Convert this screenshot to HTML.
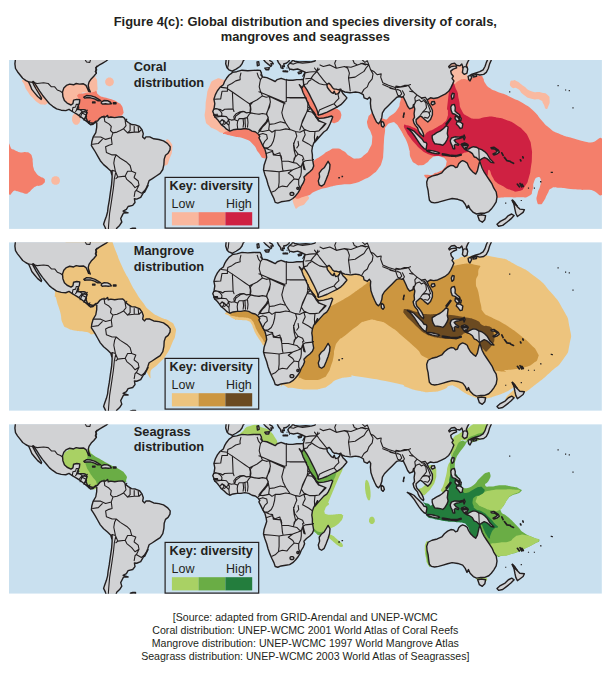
<!DOCTYPE html>
<html lang="en"><head><meta charset="utf-8"><title>Figure 4(c)</title>
<style>
html,body{margin:0;padding:0;background:#fff}
svg{display:block}
text{font-family:"Liberation Sans",Arial,Helvetica,sans-serif;fill:#231f20}
.t{font-weight:bold;font-size:12.9px;text-anchor:middle}
.l{font-weight:bold;font-size:12.8px}
.k{font-weight:bold;font-size:12.7px}
.r{font-size:12.5px}
.s{font-size:10.6px;text-anchor:middle}
.land{fill:#d1d2d4;stroke:#231f20;stroke-width:1.4;stroke-linejoin:round}
.bd{fill:none;stroke:#231f20;stroke-width:1.1;stroke-linejoin:round;stroke-linecap:round}
.is{fill:#231f20;stroke:none}
.st{fill:none;stroke:#231f20;stroke-width:1.7;stroke-linecap:round;stroke-linejoin:round}
</style></head><body>
<svg width="613" height="676" viewBox="0 0 613 676">
<defs>
<clipPath id="cp0"><rect x="0" y="0" width="592.9" height="168.9"/></clipPath>
<clipPath id="cp1"><rect x="0" y="0" width="592.9" height="168.7"/></clipPath>
<clipPath id="cp2"><rect x="0" y="0" width="592.9" height="169.6"/></clipPath>
<g id="base">
<path class="land" d="M6.5 -1.3 L5.9 3.9 L6.5 8.5 L8.5 11.7 L11.1 15.0 L13.7 18.3 L17.0 20.6 L19.6 21.9 L21.5 26.1 L22.8 29.4 L25.4 32.6 L28.7 36.5 L32.2 39.4 L32.6 38.1 L29.8 33.3 L27.1 29.0 L24.8 24.8 L23.5 22.2 L24.0 21.5 L24.8 21.9 L27.7 26.4 L30.5 30.9 L33.5 35.2 L37.5 40.1 L40.5 43.7 L43.7 46.3 L47.6 48.9 L52.2 50.2 L56.8 50.6 L60.0 49.3 L63.3 51.5 L67.9 54.2 L71.8 56.8 L75.0 59.4 L78.3 62.0 L81.5 64.8 L84.1 64.3 L86.1 62.4 L87.8 63.0 L87.7 67.4 L86.8 72.6 L84.1 77.2 L82.8 81.8 L82.4 85.7 L84.1 88.3 L86.1 91.5 L88.7 96.1 L91.3 100.7 L94.6 104.6 L98.5 107.9 L101.8 111.1 L103.1 115.7 L103.1 110.6 L103.1 117.4 L102.6 124.3 L101.4 132.3 L100.3 140.3 L99.1 147.1 L98.6 151.7 L97.4 156.2 L95.7 160.8 L94.6 164.2 L96.3 167.7 L97.4 171.7 L106.6 171.7 L107.7 168.2 L110.6 165.4 L112.8 162.0 L111.7 158.5 L113.4 155.1 L114.5 153.0 L119.1 152.8 L114.1 151.2 L117.4 149.4 L119.1 146.5 L123.7 145.4 L126.0 142.5 L125.4 138.8 L127.7 139.1 L131.7 137.4 L134.0 133.4 L136.8 128.8 L139.1 125.4 L135.6 132.3 L136.9 129.1 L138.8 124.5 L140.1 120.6 L143.4 118.6 L147.3 116.0 L151.2 113.4 L153.8 109.5 L154.9 104.3 L155.2 99.1 L156.5 95.2 L159.1 93.2 L161.0 89.9 L161.2 86.7 L158.4 83.4 L154.5 80.8 L149.9 79.5 L144.7 78.8 L140.8 76.9 L136.9 76.9 L135.6 78.8 L133.6 76.9 L134.3 73.6 L133.0 69.7 L130.4 66.4 L126.4 64.9 L122.5 64.5 L119.3 62.5 L116.0 59.9 L116.8 60.9 L115.5 58.3 L113.5 56.7 L109.6 57.0 L105.7 57.6 L101.8 57.0 L99.2 57.6 L98.6 55.4 L96.5 57.0 L93.3 56.7 L90.7 58.3 L88.5 61.1 L86.8 61.3 L84.2 63.3 L80.9 62.6 L78.3 60.7 L77.0 57.4 L77.6 53.5 L77.0 50.2 L75.0 49.6 L70.4 49.6 L67.8 49.3 L69.1 45.9 L70.4 43.1 L70.8 39.7 L67.8 39.4 L64.6 40.1 L63.9 43.7 L62.0 45.0 L58.1 43.1 L55.4 40.5 L53.9 36.5 L53.5 32.0 L54.8 28.1 L57.4 25.4 L60.7 24.1 L64.6 24.8 L67.2 23.5 L70.4 24.1 L74.4 23.8 L77.0 25.4 L78.3 28.1 L79.6 31.3 L81.3 31.8 L80.0 28.7 L79.2 25.4 L80.0 22.2 L82.2 18.9 L84.8 16.3 L87.4 13.1 L86.8 10.4 L87.4 7.2 L90.0 5.2 L93.3 3.3 L97.2 1.0 L99.8 -1.3Z M74.8 37.2 L77.6 35.5 L82.2 35.9 L86.1 37.2 L89.4 39.2 L91.7 40.7 L88.7 40.7 L85.5 38.9 L81.5 37.8 L77.6 37.8 L75.7 38.1Z M92.6 41.8 L95.2 40.5 L98.5 40.7 L101.1 42.0 L102.4 43.7 L99.2 44.1 L96.5 43.7 L93.3 44.1 L92.2 43.1Z M104.4 42.8 L107.0 42.8 L107.0 43.8 L104.4 43.8Z M83.6 42.0 L86.0 42.0 L86.0 42.9 L83.6 42.9Z M121.4 169.0 L123.7 168.2 L126.5 168.2 L126.5 169.9 L121.4 169.9Z M223.2 12.4 L227.7 11.7 L233.0 10.2 L238.8 10.7 L244.1 10.4 L248.6 10.2 L251.2 10.4 L252.5 13.1 L251.9 15.0 L253.8 17.0 L257.8 17.6 L262.3 19.6 L266.2 21.5 L268.2 19.6 L272.1 18.3 L276.0 19.6 L279.9 20.2 L283.9 20.2 L287.8 19.6 L291.7 19.6 L294.3 19.2 L294.2 19.3 L294.7 24.7 L293.2 27.8 L290.3 24.7 L292.7 28.6 L294.1 32.7 L296.6 37.7 L298.5 42.1 L300.5 46.5 L303.4 50.9 L305.7 54.8 L307.0 57.4 L310.4 58.4 L314.8 58.0 L319.2 57.0 L322.6 56.0 L323.7 56.9 L322.6 59.9 L321.1 63.8 L319.2 67.7 L317.7 70.0 L314.8 72.0 L310.3 77.0 L306.4 81.5 L308.6 76.5 L306.7 79.8 L304.7 83.1 L303.4 87.0 L302.8 90.9 L303.4 94.8 L303.4 98.7 L304.1 102.6 L304.7 105.9 L303.4 109.2 L300.8 111.8 L297.5 114.4 L294.9 117.0 L295.6 119.6 L294.3 122.9 L292.3 126.1 L291.0 129.4 L289.1 132.6 L286.5 135.9 L283.8 138.5 L280.6 140.5 L276.7 141.1 L272.1 141.8 L268.8 143.1 L266.2 142.4 L264.9 138.5 L263.0 134.6 L261.0 130.0 L259.1 124.8 L257.7 119.6 L255.8 114.4 L254.5 109.8 L255.1 105.2 L256.4 101.3 L257.7 97.4 L257.1 93.5 L255.8 88.9 L253.8 85.7 L251.9 81.7 L249.9 77.8 L250.8 76.3 L248.9 73.7 L246.2 71.8 L243.0 71.1 L239.7 69.2 L235.8 68.5 L231.9 69.2 L228.0 69.2 L224.1 69.8 L220.8 71.1 L217.5 69.2 L214.9 66.6 L212.3 64.6 L210.4 62.0 L208.4 59.4 L205.8 56.8 L204.9 54.2 L203.8 51.5 L205.1 48.3 L205.8 43.7 L204.9 39.2 L206.4 34.6 L208.4 30.7 L211.0 27.4 L214.3 24.8 L215.6 21.5 L217.5 18.3 L220.1 15.0 L222.8 13.1Z M319.1 101.3 L321.0 104.6 L320.6 109.2 L319.1 114.4 L317.1 119.6 L315.2 124.2 L312.6 126.1 L310.2 124.8 L309.3 120.9 L310.6 117.0 L310.2 113.1 L312.6 109.8 L315.2 107.8 L317.1 104.6Z M217.3 -2.0 L216.7 3.9 L218.0 7.8 L219.9 9.8 L223.2 11.1 L227.1 9.1 L231.0 6.5 L233.0 3.9 L234.3 0.7 L236.9 -2.0Z M253.2 -2.0 L256.5 2.0 L259.7 4.6 L261.7 6.5 L262.7 5.5 L261.9 3.7 L264.3 3.9 L263.2 2.0 L261.0 0.7 L259.7 -2.0Z M255.8 8.1 L260.4 7.6 L259.7 9.8 L257.1 9.8Z M248.0 2.0 L249.7 1.6 L250.2 5.2 L248.4 5.9Z M267.5 -2.0 L269.5 2.6 L271.5 5.2 L272.1 7.8 L274.1 8.5 L273.4 5.9 L275.4 6.5 L274.7 3.9 L277.3 3.3 L279.9 1.3 L281.3 -2.0Z M274.1 11.0 L278.6 11.1 L278.6 11.7 L274.1 11.6Z M289.1 12.4 L293.0 11.1 L292.3 13.1 L289.7 13.7Z M284.5 -2.4 L282.9 1.6 L280.5 3.3 L278.8 5.7 L280.5 9.0 L284.5 9.8 L288.6 9.0 L292.7 10.6 L296.0 12.2 L295.2 16.3 L294.2 20.2 L294.2 19.3 L294.7 24.7 L295.6 26.4 L297.8 29.7 L300.3 34.1 L302.7 39.0 L305.2 43.9 L307.3 48.3 L308.6 51.7 L309.4 55.2 L313.3 54.0 L318.2 52.1 L323.1 49.6 L328.0 47.2 L331.9 44.7 L334.3 42.3 L336.8 39.4 L337.9 37.9 L335.8 35.4 L333.9 33.5 L332.4 31.0 L331.9 29.1 L330.4 32.0 L329.0 33.7 L326.7 34.4 L325.8 32.9 L325.3 31.1 L324.6 32.1 L324.3 33.4 L322.3 32.4 L320.3 30.0 L318.4 27.5 L317.8 24.7 L320.0 23.2 L322.0 25.3 L323.5 27.7 L325.3 29.1 L327.2 29.1 L329.5 29.8 L331.4 29.3 L332.9 30.7 L335.8 32.0 L341.0 32.7 L342.6 32.6 L346.5 32.0 L350.4 32.6 L354.3 34.6 L355.1 37.8 L358.4 39.2 L360.4 37.2 L361.7 39.2 L361.4 43.1 L361.9 48.3 L363.6 53.5 L365.6 58.1 L367.5 62.0 L369.5 63.7 L371.4 61.3 L372.8 57.4 L373.4 52.9 L375.4 49.6 L379.3 45.7 L383.2 41.8 L385.8 39.2 L387.8 37.2 L390.4 36.5 L393.0 37.2 L394.1 36.5 L396.7 41.8 L398.6 46.3 L400.6 48.9 L403.8 47.6 L404.5 44.4 L405.8 48.9 L405.1 53.5 L405.5 57.4 L404.1 59.6 L404.9 62.9 L406.4 65.4 L408.5 67.7 L409.3 70.2 L410.6 72.7 L412.3 74.8 L414.4 76.5 L414.8 75.2 L414.0 72.7 L412.8 70.2 L411.1 67.7 L409.6 65.8 L407.9 64.1 L407.1 61.7 L407.1 59.6 L411.3 55.9 L413.6 57.4 L416.2 60.0 L418.8 62.0 L421.5 59.4 L423.4 54.8 L423.4 50.2 L421.5 46.3 L419.5 43.1 L418.2 39.8 L421.5 37.8 L424.7 38.5 L428.6 37.8 L432.5 35.9 L436.5 33.9 L439.7 31.3 L441.7 28.1 L443.6 24.1 L444.9 20.9 L443.0 18.3 L444.3 16.3 L442.3 13.7 L441.7 11.1 L444.3 9.1 L447.6 7.8 L446.9 5.9 L442.3 6.5 L440.4 7.8 L439.7 6.5 L442.3 3.9 L445.6 3.3 L447.6 5.2 L450.8 5.9 L452.8 3.9 L454.1 7.8 L453.4 12.4 L455.4 14.4 L458.0 13.1 L458.7 9.1 L457.3 5.2 L458.7 2.0 L460.9 -2.0Z M372.8 61.3 L374.5 62.4 L375.4 65.3 L374.1 67.2 L372.5 65.9 L372.1 63.3Z M422.8 41.8 L425.4 41.5 L426.0 43.7 L423.4 45.0 L422.1 43.7Z M443.4 33.3 L445.2 33.7 L444.7 37.8 L443.0 39.2 L442.3 35.9Z M459.1 16.3 L461.7 15.0 L462.6 17.6 L461.0 20.9 L459.7 19.6Z M463.6 15.4 L467.5 14.6 L467.5 16.4 L464.3 17.0Z M462.3 14.4 L466.2 13.1 L470.8 11.7 L474.1 9.8 L476.0 6.5 L477.3 2.6 L479.3 -2.0 L483.2 -2.0 L480.6 3.9 L479.3 8.5 L477.3 12.4 L474.7 14.4 L470.8 15.0 L467.5 14.1 L464.3 15.4Z M442.8 45.0 L445.4 44.4 L446.3 47.6 L446.0 50.9 L448.0 52.9 L450.6 54.8 L451.2 56.8 L448.6 56.1 L446.0 54.2 L443.4 53.5 L442.1 50.2 L441.8 47.0Z M446.3 56.1 L448.6 57.2 L450.2 59.4 L449.3 61.3 L447.3 60.3 L446.0 58.5Z M450.2 57.4 L452.3 58.1 L451.9 60.7 L450.7 60.3Z M448.0 61.6 L451.2 62.0 L453.8 63.9 L453.2 67.9 L451.2 68.5 L449.3 65.9 L447.3 63.9Z M436.9 63.9 L441.4 58.1 L442.1 58.7 L437.9 64.6Z M398.3 68.2 L401.6 69.4 L404.9 71.1 L407.3 73.5 L409.4 75.5 L411.4 77.6 L413.4 79.6 L415.1 82.1 L417.1 82.5 L417.9 84.1 L417.5 86.5 L417.1 89.4 L415.1 88.6 L412.6 86.1 L410.2 82.9 L407.7 79.2 L405.3 75.5 L402.8 72.3 L400.4 69.8Z M417.5 90.6 L419.5 90.2 L422.8 90.6 L426.1 91.4 L429.3 92.3 L430.6 93.1 L429.3 93.9 L426.1 93.5 L422.8 92.7 L419.5 91.8Z M433.3 93.7 L436.7 94.3 L441.2 95.1 L441.2 96.0 L436.7 95.3 L433.3 94.8Z M442.4 95.3 L445.8 95.4 L449.2 95.1 L449.2 96.0 L445.8 96.4 L442.4 96.2Z M446.2 95.9 L452.1 94.1 L452.4 95.0 L446.9 96.7Z M423.2 75.5 L425.3 74.3 L427.7 72.7 L431.0 71.1 L433.4 69.4 L435.5 67.4 L437.1 65.7 L439.1 67.0 L438.7 70.2 L438.3 73.5 L439.1 76.8 L437.9 80.0 L435.9 83.3 L433.8 85.3 L431.4 84.5 L428.5 84.1 L425.7 83.7 L424.0 80.8 L423.2 78.0Z M441.2 80.8 L442.4 78.0 L445.8 76.8 L450.4 77.1 L453.6 76.3 L453.8 77.4 L450.4 78.5 L447.0 79.1 L445.2 80.3 L447.0 82.5 L449.8 84.3 L449.2 85.4 L446.4 84.3 L445.2 85.4 L445.8 88.8 L444.1 88.8 L443.0 85.4 L441.8 83.1Z M455.1 75.0 L456.1 77.4 L455.1 79.9 L454.4 77.4Z M452.1 84.6 L458.6 84.2 L459.3 85.5 L453.4 85.9Z M452.6 83.8 L455.6 82.8 L458.0 83.8 L459.0 85.7 L458.0 87.7 L456.1 87.7 L457.0 89.1 L459.5 89.1 L461.9 87.7 L464.4 86.7 L467.3 87.2 L469.8 88.7 L472.7 89.6 L475.6 91.6 L478.1 94.0 L479.6 96.5 L481.0 98.9 L483.5 101.4 L484.9 102.9 L482.0 102.4 L480.0 100.4 L477.6 98.4 L475.2 97.5 L472.7 98.9 L470.7 100.4 L468.8 98.9 L467.3 97.5 L465.4 97.0 L464.4 95.5 L463.4 93.6 L461.4 92.1 L459.5 91.1 L457.0 90.1 L455.1 88.7 L453.6 86.7 L452.6 85.2Z M482.0 87.7 L484.9 87.2 L489.3 90.1 L490.3 92.1 L487.9 94.0 L484.9 95.0 L484.0 94.0 L486.9 92.6 L488.4 91.1 L485.9 89.1 L482.5 88.7Z M419.1 118.1 L423.0 116.1 L428.2 114.8 L432.8 112.8 L435.4 109.6 L438.6 107.0 L441.9 105.4 L444.5 105.7 L446.5 107.6 L448.4 107.0 L449.7 103.7 L451.7 101.7 L453.6 100.7 L456.2 101.7 L458.2 103.1 L459.5 106.3 L461.5 109.6 L464.1 112.2 L466.7 114.1 L468.4 110.9 L469.3 107.0 L470.2 103.1 L470.9 101.5 L471.9 104.4 L473.2 108.3 L475.2 112.2 L477.8 116.1 L480.4 120.0 L483.0 123.9 L484.7 127.9 L487.2 132.0 L488.0 136.9 L487.2 141.8 L484.7 145.9 L482.3 149.1 L479.8 151.6 L475.8 153.2 L471.7 153.2 L467.6 154.0 L464.3 152.4 L461.1 149.1 L459.4 145.4 L458.0 148.3 L456.2 144.2 L453.7 141.0 L448.8 139.3 L443.1 138.5 L438.6 139.6 L434.1 140.9 L429.5 142.2 L425.6 142.9 L422.3 142.2 L420.4 140.2 L419.7 135.7 L419.1 130.5 L418.0 125.9 L417.7 122.0Z M468.7 155.6 L472.5 154.8 L476.6 155.6 L475.8 159.7 L473.3 162.2 L470.4 160.5Z M503.5 140.1 L505.9 142.6 L508.4 146.7 L510.8 149.1 L515.4 149.6 L514.1 152.4 L510.8 154.8 L508.4 156.5 L506.8 153.2 L505.9 149.1 L505.1 145.0Z M502.7 154.0 L505.1 155.6 L501.9 158.9 L497.8 162.2 L493.7 165.4 L489.6 166.2 L488.0 164.3 L491.3 161.4 L496.1 158.9 L499.4 155.6Z M284.9 133.9 L284.5 134.9 L283.5 135.4 L282.3 135.4 L281.3 134.9 L281.0 133.9 L281.3 133.0 L282.3 132.5 L283.5 132.5 L284.5 133.0Z M289.8 128.3 L289.5 129.1 L288.8 129.4 L288.1 129.1 L287.8 128.3 L288.1 127.6 L288.8 127.3 L289.5 127.6Z"/>
<path class="land" style="fill:#c9e0ef" d="M283.2 -3.0 L285.2 1.3 L290.4 2.0 L296.9 1.6 L302.1 2.0 L306.0 1.0 L307.3 -3.0Z"/>
<path class="bd" d="M231.9 13.1 L231.0 17.0 L231.2 19.6 L226.7 20.9 L222.8 23.5 L218.8 25.4 L218.4 28.7 M212.3 27.4 L218.4 28.1 M205.4 39.2 L211.7 38.9 L212.3 35.2 L213.0 31.3 L218.4 31.3 L218.4 28.7 M218.4 28.7 L223.4 32.0 L229.9 36.5 L236.5 41.1 L240.4 43.7 L244.3 41.8 L248.2 39.8 L253.4 35.9 M223.4 32.0 L223.7 39.2 L224.1 48.9 L215.6 49.3 L213.6 50.9 L211.7 49.6 L205.8 48.5 M240.4 43.7 L241.4 47.6 L241.0 52.2 L237.8 52.9 L235.2 51.5 L231.9 52.2 L229.3 54.2 L226.7 56.1 L226.0 58.7 M248.2 13.1 L249.5 17.0 L251.5 19.6 L250.8 22.8 L250.2 26.8 L251.5 31.3 L253.4 35.9 M251.5 19.6 L253.4 17.0 L252.8 14.4 M253.4 35.9 L257.3 37.2 L260.6 36.5 L269.1 40.5 L276.0 43.7 M260.6 36.5 L261.3 41.8 L260.6 47.0 L258.0 52.2 L257.3 54.2 M241.0 52.9 L244.9 53.5 L249.5 54.2 L253.4 53.5 L257.3 54.2 M257.3 54.2 L259.3 57.4 L258.6 61.3 L256.0 64.6 L253.4 67.2 L250.8 71.1 L249.5 72.4 M224.1 48.9 L225.0 51.5 M204.7 49.3 L208.1 48.8 L210.6 50.3 L212.0 51.7 L213.0 53.7 L212.5 56.1 L209.1 56.1 M204.7 54.5 L208.6 54.3 M204.7 55.5 L208.8 55.5 M205.7 57.1 L209.6 56.6 L213.5 56.1 L217.4 56.6 L219.4 59.1 L218.9 61.5 L216.9 63.0 L215.5 61.0 L213.0 59.6 L211.1 61.7 M211.6 61.0 L214.0 60.1 L215.0 62.5 L213.3 64.7 M215.0 64.5 L217.4 63.0 L219.9 65.4 L220.4 70.5 M219.4 59.1 L220.4 62.5 L219.9 65.4 M219.4 59.1 L222.3 60.1 L225.3 59.6 M228.7 61.0 L228.2 64.5 L228.7 69.0 M225.3 59.6 L224.8 56.6 L227.2 53.7 L231.1 51.7 L234.1 51.3 M225.3 59.6 L228.7 61.0 L230.2 58.6 L234.6 58.6 L238.0 57.6 M234.1 59.1 L234.6 63.5 L234.1 67.1 M236.0 58.6 L236.2 63.5 L236.5 67.1 M238.5 57.6 L239.0 62.5 L238.5 67.1 M238.0 57.6 L239.9 54.7 L241.9 52.7 M234.1 51.3 L237.0 52.7 L241.4 52.2 L241.9 49.3 L241.4 44.9 L243.9 42.0 M241.9 52.7 L245.8 53.7 L251.0 54.2 M277.3 19.3 L277.3 37.6 L296.2 37.6 L297.5 38.3 M249.9 31.7 L261.0 36.3 L275.4 42.2 L277.3 41.5 L277.3 37.6 M275.4 42.2 L274.1 47.4 L272.8 52.6 L274.1 57.8 L276.7 63.1 L279.3 67.0 L281.2 69.6 M260.4 36.3 L261.4 42.2 L259.1 49.4 L257.7 53.9 M257.7 53.9 L259.1 57.8 L257.1 61.8 L253.8 65.7 L251.2 68.9 L249.9 70.9 M259.1 57.8 L260.4 64.4 L265.6 63.7 L271.4 61.8 L276.7 63.1 M260.4 64.4 L259.7 69.6 L263.0 72.2 L266.2 70.2 L270.8 70.2 L276.7 68.9 L281.2 69.6 L286.5 71.5 M301.5 48.1 L298.2 51.3 L296.2 55.2 L293.6 60.5 L292.3 65.0 L294.9 68.9 L297.5 70.2 M298.2 51.3 L302.8 52.0 L306.7 55.9 L308.6 57.8 M308.6 57.8 L309.9 60.5 L317.1 63.7 L313.9 67.0 L309.9 70.9 L306.0 71.5 M297.5 70.2 L300.8 71.5 L306.0 71.5 M306.0 71.5 L305.4 77.4 L305.8 82.6 M286.5 71.5 L291.0 72.2 L294.9 70.2 L297.5 70.2 M294.9 70.2 L296.2 74.8 L294.3 78.7 L293.6 80.7 M293.6 80.7 L299.5 83.9 L303.4 86.6 M286.5 71.5 L287.8 76.1 L285.8 80.7 L284.5 85.3 L285.2 90.5 L286.5 95.7 L285.2 100.0 M289.1 81.3 L289.7 85.3 L287.8 87.9 M266.2 70.2 L265.6 76.1 L264.3 81.3 L262.3 85.3 L259.1 87.9 L255.8 87.9 M249.9 74.8 L253.8 73.5 L257.7 74.8 L258.4 78.7 L255.8 81.3 L253.8 85.3 L255.1 87.9 M249.9 70.9 L253.8 71.5 L259.7 70.2 M255.8 87.9 L260.4 89.8 L263.6 90.5 L264.3 95.0 L272.1 95.7 L272.8 99.0 M255.1 110.5 L263.0 111.1 L270.1 111.8 L274.1 111.1 L283.8 109.8 M272.8 101.3 L273.4 107.8 L274.1 111.1 M257.1 93.5 L263.0 91.5 L265.6 94.8 L270.8 92.8 L272.1 98.1 L272.8 101.3 L279.3 101.3 L284.5 102.6 M270.1 111.8 L270.1 122.2 L269.5 127.4 M263.0 132.0 L266.2 130.7 L269.5 127.4 M269.5 127.4 L273.4 126.1 L278.0 126.8 L280.6 123.5 L283.8 120.2 L285.2 118.9 M279.3 113.1 L283.8 116.3 L285.2 118.9 M279.3 113.1 L283.8 109.8 L289.1 107.8 L292.3 106.5 M285.2 118.9 L289.7 119.6 L291.7 115.7 L292.3 111.8 L292.3 106.5 M289.7 119.6 L289.7 124.8 L291.0 128.1 M284.5 102.6 L287.8 103.3 L290.4 105.9 L292.3 106.5 M292.3 106.5 L293.6 102.6 L296.2 100.7 L303.4 100.0 L304.5 99.4 M293.6 99.4 L294.9 105.2 L296.2 109.8 L294.9 109.2 L293.6 103.9 M284.5 83.1 L285.8 89.6 L289.1 94.1 L293.6 96.1 L294.9 99.4 M284.5 102.6 L285.2 98.1 L289.1 94.1 M281.0 37.9 L296.5 37.9 M296.7 18.8 L302.0 18.3 L306.4 21.3 L310.4 23.7 L314.8 24.7 L317.7 24.7 M294.7 24.7 L298.1 23.7 L299.6 21.3 L302.0 19.8 M305.5 8.0 L310.4 14.9 L314.3 19.8 L316.7 22.7 L318.2 24.2 M302.0 18.3 L304.5 14.9 L307.4 12.0 L308.9 8.0 M295.7 12.9 L300.6 12.0 L307.4 11.5 L310.4 9.0 M308.9 54.5 L310.4 50.1 L314.3 48.2 L320.2 45.7 L325.0 43.8 L327.0 41.3 M325.0 43.8 L328.0 47.2 M327.0 41.3 L329.9 38.4 L329.0 34.5 L330.4 32.0 M299.1 47.2 L302.0 48.7 L305.0 52.1 L306.9 55.0 M299.1 42.3 L298.6 47.2 M290.8 70.0 L292.7 63.8 L295.7 57.0 L298.1 51.1 L299.1 47.2 M307.4 58.0 L309.4 60.9 L316.2 63.3 L313.3 66.8 L310.4 70.0 M341.2 31.0 L340.4 24.5 L339.5 17.9 L340.4 13.1 L338.7 8.2 L335.5 6.5 L327.3 8.2 L320.8 4.9 L314.3 6.5 L311.0 4.9 M340.4 17.9 L346.1 17.1 L351.0 13.9 L355.0 11.4 L357.5 7.3 L359.9 4.9 M335.5 6.5 L342.0 7.3 L348.5 4.9 L353.4 3.3 L359.9 4.9 M352.6 33.4 L355.0 29.4 L358.3 26.9 L359.9 22.8 L363.2 18.8 L364.0 13.9 L361.6 9.8 L359.9 4.9 M361.6 9.8 L364.8 11.4 L368.1 14.7 L372.2 13.9 L371.7 17.1 L373.8 22.8 L379.5 25.3 L386.9 27.7 M373.8 24.5 L379.5 26.9 L386.9 29.7 M386.9 27.7 L392.6 26.9 L397.5 26.1 L401.5 24.5 M353.4 0.0 L355.9 2.4 L358.3 0.8 L359.9 4.9 M351.8 3.3 L356.7 4.9 M327.3 8.2 L325.7 3.3 L327.3 -0.8 M343.6 -0.8 L345.3 3.3 L348.5 4.9 M405.1 45.0 L407.1 41.1 L410.4 39.8 L412.3 41.8 L414.9 40.5 L416.9 43.1 L417.5 47.6 L415.6 50.2 L413.6 52.2 L411.7 54.8 M412.3 38.5 L415.6 39.2 L418.2 43.1 L420.2 47.6 L421.5 51.5 L419.5 52.9 M413.6 52.2 L416.9 51.5 L420.2 52.2 L420.8 55.5 L418.8 58.1 L415.6 57.4 M400.6 31.3 L404.5 32.0 L408.4 35.2 L412.3 37.8 L416.2 37.2 L418.2 39.8 M399.3 25.4 L401.9 29.4 L404.5 32.0 M405.1 45.0 L406.4 41.8 L405.8 37.8 L407.8 35.2 L408.4 35.2 M393.4 30.7 L395.4 34.6 L394.1 37.2 M386.9 30.0 L388.8 35.2 L390.8 35.9 L392.7 33.9 L391.4 30.7 L388.8 29.4 L386.9 30.0 M381.0 28.1 L386.2 29.4 L386.9 26.1 L391.4 26.8 L395.4 25.4 L399.3 25.4 M453.4 7.8 L456.0 6.5 L458.0 7.2 M95.0 55.8 L95.8 61.5 L99.9 63.9 L102.3 66.4 L101.5 70.5 L103.9 72.9 M103.9 72.9 L108.0 72.1 L111.3 70.5 L114.5 68.8 L117.0 65.6 L116.2 61.5 L117.8 59.1 M121.1 63.9 L121.1 70.5 L118.6 72.9 M125.2 66.4 L125.2 72.1 M129.2 66.9 L129.7 72.1 M114.5 68.8 L118.6 72.9 L125.2 72.1 L130.0 72.1 L132.5 69.7 M103.9 72.9 L102.3 77.8 L103.1 84.3 L99.9 85.2 L96.6 86.8 M84.4 77.0 L91.7 77.0 L96.6 79.4 L102.3 77.8 M83.6 84.3 L89.3 83.5 L93.3 79.4 M96.6 86.8 L97.4 92.5 L103.1 94.9 L107.2 94.9 M107.2 94.9 L111.3 98.2 L117.8 102.3 L121.1 105.5 L122.7 111.3 L126.8 112.9 L125.2 117.0 M107.2 94.9 L105.6 98.2 L104.8 103.1 L106.4 111.3 L108.8 117.0 L116.2 116.1 L118.6 111.3 L122.7 111.3 M103.1 110.4 L106.4 111.3 M116.2 116.1 L117.8 119.4 L122.7 123.5 L126.0 127.6 L130.0 125.1 L129.2 121.0 L125.2 117.8 L125.2 117.0 M108.8 117.0 L106.9 118.6 M130.0 125.1 L127.6 130.0 L126.0 131.6 L125.2 136.5 M127.6 130.5 L132.5 133.3 L134.9 131.2 M106.6 113.0 L105.4 118.3 L104.4 128.1 L102.4 141.8 L100.6 153.5 L99.6 165.3 L99.2 172.0 M19.6 21.9 L24.1 22.4 L28.1 23.5 L34.6 22.8 L39.2 23.5 L42.4 26.8 L45.7 26.8 L48.3 30.0 L51.5 31.3 L53.2 32.6 M63.3 51.5 L63.9 47.6 L66.6 47.0 L67.2 44.4 L69.2 44.4 M69.2 44.4 L69.8 47.6 L68.5 48.9 M66.6 51.5 L68.5 48.9 L71.1 49.6 L73.1 51.5 M70.5 54.8 L73.1 51.5 L77.0 52.2 L78.3 50.2 M75.0 59.4 L77.0 55.5 L78.3 52.2 M71.1 57.6 L73.1 53.1 L76.3 50.7 M75.0 60.2 L77.6 56.3 M79.6 63.5 L80.9 60.6 M77.0 55.0 L73.1 53.1 M75.9 -0.8 L77.5 2.0 L80.8 2.4 L81.6 -0.8 M88.1 5.9 L86.5 7.8 L87.8 9.8 L86.2 11.7 L87.5 13.1 M219.9 -0.7 L219.3 5.2 L218.6 7.8 M280.5 3.3 L284.5 4.1 L288.6 2.4 L293.5 3.3 L300.9 2.4 M293.8 16.3 L296.0 12.2 M469.8 88.7 L470.3 100.9 M453.4 7.8 L456.0 6.5 L458.3 7.6"/>
<path class="is" d="M531.3 121.2h1.2v1.2h-1.2z M542.7 111.8h1.2v1.2h-1.2z M518.9 127.5h1.2v1.2h-1.2z M524.8 127.5h1.2v1.2h-1.2z M511.7 139.9h1.2v1.2h-1.2z M496.1 142.5h1.2v1.2h-1.2z M548.5 25.1h1.2v1.2h-1.2z M556.0 29.4h1.2v1.2h-1.2z M559.7 30.1h1.2v1.2h-1.2z M500.1 31.3h1.2v1.2h-1.2z M563.4 47.3h1.2v1.2h-1.2z M541.7 111.7h1.2v1.2h-1.2z M531.0 121.0h1.2v1.2h-1.2z M329.3 117.1h1.6v1.4h-1.6z M332.5 115.8h1.6v1.4h-1.6z M277.5 7.5h1.0v1.0h-1.0z M280.0 9.5h1.0v1.0h-1.0z M276.0 10.5h1.0v1.0h-1.0z"/>
<path class="st" d="M492.8 92.8 L494.1 95.4 M495.4 97.4 L498.0 100.7 L501.2 101.3 M501.9 102.0 L504.5 103.3 M508.4 124.2 L510.4 126.8 M511.0 123.5 L512.7 126.8 M513.0 124.2 L514.3 126.4 M503.2 140.5 L505.2 143.7 L507.8 145.7 M511.4 99.8 L511.9 100.8 M513.8 96.8 L514.2 97.9 M395.1 53.2 L394.8 54.8 M394.5 55.9 L394.4 57.2"/>
</g>
</defs>
<text class="t" x="305.3" y="26.4">Figure 4(c): Global distribution and species diversity of corals,</text>
<text class="t" x="305.3" y="41.1">mangroves and seagrasses</text>
<g transform="translate(9,60)" clip-path="url(#cp0)">
<rect x="0" y="0" width="592.9" height="168.9" fill="#c9e0ef"/>
<path fill="#f9b9a0" d="M50.2 19.6C60.0 10.4 70.1 17.7 82.2 17.0C94.3 16.2 84.5 14.7 86.5 17.4C88.5 20.0 88.2 20.1 88.3 24.8C88.5 29.5 89.3 29.0 87.0 31.6C84.8 34.2 86.8 31.8 81.5 32.6C76.2 33.5 74.6 30.7 71.1 34.2C67.6 37.7 73.3 38.8 71.1 43.1C68.9 47.3 70.7 46.5 64.6 47.0C58.5 47.4 57.6 53.5 52.8 44.4C48.0 35.2 40.4 28.7 50.2 19.6Z M104.8 21.9C104.8 23.3 104.9 22.8 104.2 24.0C103.5 25.3 103.9 24.9 102.7 25.6C101.4 26.3 101.9 26.2 100.5 26.2C99.1 26.2 99.6 26.3 98.3 25.6C97.1 24.9 97.5 25.3 96.8 24.0C96.1 22.8 96.2 23.3 96.2 21.9C96.2 20.5 96.1 21.0 96.8 19.8C97.5 18.5 97.1 18.9 98.3 18.2C99.6 17.5 99.1 17.6 100.5 17.6C101.9 17.6 101.4 17.5 102.7 18.2C103.9 18.9 103.5 18.5 104.2 19.7C104.9 21.0 104.8 20.5 104.8 21.9Z M71.3 59.0C71.3 60.9 71.4 60.2 70.8 61.9C70.1 63.5 70.4 63.0 69.2 63.9C68.1 64.9 68.6 64.7 67.2 64.7C65.8 64.7 66.3 64.9 65.2 63.9C64.0 63.0 64.3 63.5 63.6 61.9C63.0 60.2 63.1 60.9 63.1 59.0C63.1 57.1 63.0 57.8 63.6 56.1C64.3 54.5 64.0 55.0 65.2 54.1C66.3 53.1 65.8 53.3 67.2 53.3C68.6 53.3 68.1 53.1 69.2 54.1C70.4 55.0 70.1 54.5 70.8 56.1C71.4 57.8 71.3 57.1 71.3 59.0Z M50.9 120.5C50.9 121.9 51.0 121.4 50.3 122.7C49.6 123.9 50.0 123.5 48.8 124.2C47.5 124.9 48.0 124.8 46.6 124.8C45.2 124.8 45.7 124.9 44.5 124.2C43.2 123.5 43.6 123.9 42.9 122.7C42.2 121.4 42.3 121.9 42.3 120.5C42.3 119.1 42.2 119.6 42.9 118.3C43.6 117.1 43.2 117.5 44.5 116.8C45.7 116.1 45.2 116.2 46.6 116.2C48.0 116.2 47.5 116.1 48.8 116.8C50.0 117.5 49.6 117.1 50.3 118.3C51.0 119.6 50.9 119.1 50.9 120.5Z M14.7 19.6C11.1 20.9 14.1 21.2 15.5 25.3C16.9 29.4 16.0 27.6 18.8 31.8C21.5 36.0 20.2 34.2 23.7 37.8C27.1 41.5 25.6 40.5 29.0 42.7C32.5 45.0 31.0 44.2 33.9 44.5C36.9 44.9 36.0 45.1 37.8 43.7C39.7 42.4 40.1 44.2 39.5 40.5C38.8 36.8 40.3 39.0 35.9 32.6C31.4 26.2 33.2 25.6 26.1 21.2C19.0 16.9 18.2 18.2 14.7 19.6Z M501.2 22.5C501.6 20.1 502.1 20.9 504.4 20.5C506.6 20.1 504.4 19.3 507.9 21.2C511.4 23.1 510.1 22.9 514.9 26.2C519.7 29.5 516.5 29.1 522.4 31.2C528.2 33.3 526.9 31.2 532.3 32.4C537.8 33.7 535.8 32.4 538.6 34.9C541.3 37.4 540.3 36.2 540.6 39.9C540.8 43.7 540.6 43.3 539.3 46.2C538.1 49.1 538.5 49.5 536.8 48.7C535.2 47.8 536.3 46.6 534.3 43.7C532.4 40.8 535.1 41.6 531.1 39.9C527.1 38.3 527.8 40.4 522.4 38.7C517.0 37.0 519.5 38.3 514.9 34.9C510.3 31.6 512.6 31.2 508.6 28.7C504.6 26.2 505.4 29.5 502.9 27.5C500.4 25.4 500.7 24.8 501.2 22.5Z M436.0 -2.0C442.7 -10.7 448.7 -7.3 456.0 -2.0C463.3 3.3 456.7 7.3 458.0 14.0C459.3 20.7 460.7 15.7 460.0 18.0C459.3 20.3 459.3 19.0 456.0 21.0C452.7 23.0 454.0 22.0 450.0 24.0C446.0 26.0 448.7 27.0 444.0 27.0C439.3 27.0 438.7 33.7 436.0 24.0C433.3 14.3 429.3 6.7 436.0 -2.0Z M316.8 24.7C317.3 22.9 317.9 22.2 319.7 22.3C321.4 22.5 320.8 23.4 322.1 25.1C323.4 26.8 322.5 26.2 323.6 27.4C324.7 28.7 324.2 28.3 325.4 28.8C326.7 29.2 325.9 28.6 327.4 28.8C328.9 29.0 328.8 28.4 329.9 29.4C331.0 30.4 331.7 30.0 330.7 31.7C329.7 33.5 329.2 34.0 327.0 34.7C324.8 35.3 325.9 34.3 324.3 33.7C322.6 33.0 323.5 33.8 322.1 32.7C320.7 31.6 321.5 31.9 320.2 30.3C318.8 28.6 319.3 29.7 318.2 27.8C317.1 26.0 316.3 26.5 316.8 24.7Z M205.5 19.8C210.0 17.3 209.5 18.0 213.5 19.5C217.5 21.0 218.0 14.7 217.5 24.3C217.1 33.9 214.0 34.9 212.2 48.3C210.4 61.6 208.6 57.1 212.2 64.2C215.7 71.3 216.4 67.6 222.8 69.6C229.2 71.5 230.5 68.7 231.4 70.1C232.2 71.5 231.0 72.8 225.5 73.8C220.0 74.9 221.1 74.6 214.8 73.3C208.6 72.0 211.7 72.3 206.9 69.8C202.0 67.3 203.8 69.5 200.2 65.8C196.6 62.2 197.4 64.8 196.2 58.9C195.0 53.0 196.0 55.4 196.5 48.3C196.9 41.2 196.3 44.7 197.5 37.6C198.8 30.5 197.5 32.9 200.2 27.0C202.9 21.0 201.1 22.2 205.5 19.8Z M156.8 80.7C158.1 77.9 159.5 79.4 161.6 82.3C163.7 85.3 163.5 84.0 163.2 89.5C162.8 95.0 162.5 93.6 160.5 98.8C158.6 104.1 159.6 104.3 157.3 105.2C155.0 106.1 153.5 106.3 153.6 101.5C153.7 96.7 156.5 97.8 157.6 90.9C158.7 83.9 155.5 83.6 156.8 80.7Z M285.8 133.5C289.9 129.8 294.5 132.6 298.2 135.5C302.0 138.4 299.5 138.7 297.0 142.3C294.5 145.8 294.5 144.8 290.7 146.3C287.0 147.8 287.4 151.0 285.8 146.8C284.1 142.5 281.6 137.3 285.8 133.5Z"/>
<path fill="#f47f6b" d="M68.5 35.0C70.2 32.6 69.8 34.3 75.0 33.3C80.2 32.3 80.1 32.7 84.2 32.0C88.2 31.2 85.1 30.0 87.0 31.1C89.0 32.1 86.6 33.0 90.0 35.2C93.4 37.5 92.6 36.3 97.2 37.8C101.8 39.4 99.8 38.3 103.7 39.8C107.6 41.3 106.1 40.7 108.9 42.4C111.8 44.2 110.5 42.4 112.2 45.0C114.0 47.6 113.6 47.2 114.2 50.2C114.7 53.3 115.1 52.2 113.8 54.2C112.5 56.1 114.0 55.0 110.3 56.1C106.5 57.2 107.6 57.0 102.4 57.4C97.2 57.9 98.9 56.1 94.6 57.4C90.2 58.7 94.2 59.6 89.4 61.3C84.6 63.1 85.0 64.8 80.2 62.6C75.5 60.5 78.5 58.7 75.0 54.8C71.5 50.9 71.5 55.7 69.8 50.9C68.1 46.1 70.2 45.8 69.8 40.5C69.4 35.1 66.8 37.4 68.5 35.0Z M-1.3 89.6C0.2 76.4 0.4 88.9 3.3 89.3C6.1 89.7 4.4 89.8 7.2 90.9C10.0 91.9 8.5 92.0 11.7 92.4C15.0 92.9 13.9 91.8 17.0 92.2C20.0 92.5 18.8 91.8 20.9 93.5C23.0 95.2 22.3 94.4 23.2 97.4C24.2 100.5 23.3 99.1 23.8 102.6C24.2 106.1 23.5 104.6 24.5 107.8C25.5 111.1 24.7 109.6 26.8 112.4C28.8 115.2 28.1 114.4 30.7 116.3C33.3 118.3 32.8 116.8 34.6 118.3C36.3 119.8 35.9 119.2 35.9 120.9C35.9 122.6 36.1 122.0 34.6 123.5C33.1 125.0 33.9 124.5 31.3 125.5C28.7 126.4 29.4 125.3 26.8 126.4C24.1 127.5 25.9 126.6 23.5 128.7C21.1 130.8 21.8 131.0 19.6 132.6C17.4 134.3 19.4 133.8 17.0 133.7C14.6 133.6 15.9 133.4 12.4 132.4C8.9 131.4 11.1 131.9 6.5 130.7C2.0 129.5 1.3 142.4 -1.3 128.7C-3.9 115.0 -2.8 102.7 -1.3 89.6Z M290.8 24.7C292.4 23.4 292.7 21.4 296.2 24.7C299.6 27.9 297.8 27.9 301.1 34.5C304.3 41.0 303.0 37.4 306.0 44.3C308.9 51.1 308.9 50.3 309.9 55.0C310.9 59.8 310.4 58.0 308.9 58.4C307.4 58.9 307.8 59.3 305.5 56.5C303.2 53.7 304.5 54.9 302.0 50.1C299.6 45.4 300.7 47.5 298.1 42.3C295.5 37.1 296.5 39.0 294.2 34.5C291.9 29.9 292.4 31.9 291.3 28.6C290.1 25.3 289.2 26.0 290.8 24.7Z M306.6 57.2C306.3 55.8 307.2 56.2 309.4 55.0C311.6 53.8 310.4 54.8 313.3 53.7C316.2 52.5 314.9 53.2 318.2 51.7C321.5 50.2 320.2 50.3 323.1 49.2C326.0 48.2 324.7 48.4 327.0 48.7C329.3 49.0 328.3 48.7 329.9 50.1C331.6 51.6 331.2 50.8 331.9 53.1C332.6 55.3 332.5 54.5 332.0 57.0C331.4 59.4 331.8 58.6 330.2 60.4C328.6 62.2 329.3 61.5 327.2 62.4C325.1 63.2 325.7 63.3 324.1 62.9C322.4 62.4 322.4 62.9 322.3 60.9C322.2 58.9 323.6 58.4 323.7 57.0C323.8 55.5 324.1 56.4 322.6 56.6C321.1 56.8 321.8 56.9 319.2 57.6C316.6 58.2 317.7 58.1 314.8 58.5C311.8 59.0 313.1 59.5 310.4 59.0C307.7 58.6 307.0 58.5 306.6 57.2Z M214.8 72.8C216.6 71.4 215.7 71.9 222.8 70.6C229.9 69.4 228.0 69.2 236.1 69.0C244.3 68.8 242.0 68.1 247.3 70.1C252.7 72.0 249.2 69.3 252.1 74.9C255.1 80.5 254.2 80.5 256.1 86.9C258.1 93.3 258.4 90.2 258.0 94.1C257.5 97.9 257.6 98.8 254.8 98.3C251.9 97.8 253.0 97.1 249.5 92.5C245.9 87.8 248.6 88.9 244.1 84.5C239.7 80.0 242.4 81.8 236.1 79.1C229.9 76.5 231.7 78.0 225.5 76.5C219.3 75.0 221.1 75.9 217.5 74.6C214.0 73.4 213.1 74.1 214.8 72.8Z M366.9 49.9C362.7 48.3 364.5 50.8 361.9 53.7C359.2 56.6 360.0 54.7 358.9 58.7C357.8 62.6 357.6 60.8 358.6 65.4C359.6 70.0 360.4 67.6 361.9 72.4C363.4 77.2 363.5 74.5 363.1 79.9C362.7 85.3 363.1 83.6 360.6 88.6C358.1 93.6 359.8 91.5 355.6 94.8C351.5 98.2 353.1 98.2 348.2 98.6C343.2 99.0 345.2 98.6 340.7 96.1C336.1 93.6 339.0 93.6 334.4 91.1C329.8 88.6 331.9 88.6 326.9 88.6C321.9 88.6 324.4 88.6 319.4 91.1C314.5 93.6 317.0 92.8 312.0 96.1C307.0 99.4 309.5 97.3 304.5 101.1C299.5 104.8 303.6 101.1 297.0 107.3C290.3 113.6 288.7 110.2 284.5 119.8C280.3 129.4 280.3 130.6 284.5 136.0C288.7 141.4 289.5 137.7 297.0 136.0C304.5 134.4 299.5 133.9 307.0 131.0C314.5 128.1 311.1 129.4 319.4 127.3C327.8 125.2 323.6 126.0 331.9 124.8C340.2 123.5 336.9 125.2 344.4 123.5C351.9 121.9 348.2 122.7 354.4 119.8C360.6 116.9 358.1 118.6 363.1 114.8C368.1 111.1 366.0 113.1 369.4 108.6C372.7 104.0 371.4 106.5 373.1 101.1C374.8 95.7 373.8 98.6 374.4 92.3C374.9 86.1 374.4 89.0 374.9 82.4C375.4 75.7 375.0 77.8 375.9 72.4C376.7 67.0 374.9 69.5 377.4 66.1C379.8 62.8 379.9 63.2 383.1 62.4C386.3 61.6 384.3 61.6 386.8 63.6C389.3 65.7 388.1 64.9 390.6 68.6C393.1 72.4 391.8 70.3 394.3 74.9C396.8 79.5 396.0 77.0 398.1 82.4C400.1 87.8 399.7 87.8 400.6 91.1C401.4 94.4 400.0 89.7 400.6 92.2C401.1 94.7 400.3 94.9 402.2 98.7C404.1 102.5 403.0 101.4 406.3 103.6C409.5 105.8 408.2 105.5 412.0 105.3C415.8 105.0 414.4 105.0 417.7 102.8C421.0 100.6 418.8 100.9 421.8 98.7C424.8 96.6 423.1 96.8 426.7 96.3C430.2 95.7 429.1 96.0 432.4 97.1C435.6 98.2 434.8 97.4 436.5 99.5C438.1 101.7 437.8 100.6 437.3 103.6C436.7 106.6 437.3 105.8 434.8 108.5C432.4 111.2 433.5 109.9 429.9 111.8C426.4 113.7 427.8 111.5 424.2 114.2C420.7 116.9 409.1 111.4 419.3 119.9C429.6 128.5 431.9 133.8 455.0 139.8C478.1 145.7 474.5 138.6 488.7 137.8C502.8 136.9 490.3 137.4 497.4 137.3C504.5 137.1 502.4 137.7 509.9 137.3C517.4 136.9 515.3 138.5 519.9 136.0C524.4 133.5 522.0 134.4 523.6 129.8C525.3 125.2 523.2 126.5 524.9 122.3C526.5 118.1 526.3 118.1 528.6 117.3C530.9 116.5 531.0 116.9 531.9 119.8C532.7 122.7 532.2 121.5 531.1 126.0C530.0 130.6 529.7 128.5 528.6 133.5C527.5 138.5 527.0 137.4 527.9 141.0C528.7 144.6 528.8 144.3 531.1 144.3C533.4 144.3 532.3 144.6 534.8 141.0C537.3 137.4 536.1 137.7 538.6 133.5C541.1 129.4 538.6 130.5 542.3 128.5C546.1 126.6 542.3 127.5 549.8 127.8C557.3 128.0 554.8 128.6 564.8 129.3C574.8 130.0 569.4 130.0 579.8 129.8C590.2 129.5 590.6 143.5 596.0 128.5C601.4 113.6 601.4 100.3 596.0 84.9C590.6 69.5 590.2 84.4 579.8 82.4C569.4 80.3 574.8 81.5 564.8 78.6C554.8 75.7 558.1 77.4 549.8 73.6C541.5 69.9 545.7 72.0 539.8 67.4C534.0 62.8 537.3 65.3 532.3 59.9C527.4 54.5 530.7 56.6 524.9 51.2C519.0 45.8 522.4 48.3 514.9 43.7C507.4 39.1 508.6 40.5 502.4 37.4C496.2 34.4 501.2 36.5 496.2 34.4C491.1 32.4 492.3 33.4 487.2 31.2C482.0 29.0 484.4 30.8 480.7 28.0C476.9 25.1 478.1 26.0 475.9 22.7C473.8 19.5 475.7 20.5 474.2 18.2C472.7 15.9 474.5 16.1 471.4 15.7C468.4 15.3 469.1 15.7 465.0 17.0C460.8 18.2 462.5 18.8 459.0 19.5C455.5 20.1 457.7 18.5 454.5 19.0C451.2 19.5 452.7 19.1 449.2 21.0C445.7 22.9 448.4 23.0 444.0 24.7C439.6 26.4 441.7 24.2 436.0 26.0C430.3 27.7 436.5 28.6 426.8 30.0C417.0 31.3 417.6 28.7 406.8 30.0C396.0 31.2 399.5 30.0 394.3 33.7C389.2 37.4 393.2 36.2 391.3 41.2C389.5 46.2 392.0 43.9 388.8 48.7C385.7 53.4 386.7 52.1 381.8 55.4C377.0 58.7 379.3 60.5 374.4 58.7C369.4 56.8 371.0 51.6 366.9 49.9Z"/>
<path fill="#cf2142" d="M395.0 65.4C394.6 67.4 395.0 67.0 397.0 71.0C399.0 75.0 398.1 73.3 401.1 77.5C404.1 81.7 402.4 79.6 406.0 83.6C409.5 87.5 407.8 86.0 411.7 89.3C415.5 92.5 413.6 91.3 417.5 93.3C421.5 95.4 419.8 94.5 423.4 95.5C427.0 96.4 424.0 95.7 428.3 96.1C432.7 96.5 431.0 96.4 436.5 96.6C441.9 96.8 439.7 97.3 444.6 96.6C449.5 96.0 446.8 96.1 451.1 94.6C455.5 93.2 453.9 92.5 457.7 92.2C461.5 91.9 459.8 92.2 462.6 93.8C465.3 95.5 463.4 95.2 465.8 97.1C468.3 99.0 467.7 97.4 469.9 99.5C472.1 101.7 470.7 100.1 472.4 103.6C474.0 107.2 472.9 106.1 474.8 110.1C476.7 114.2 476.4 116.0 478.1 115.9C479.8 115.7 478.1 109.3 479.9 109.8C481.8 110.3 481.2 113.1 483.7 117.3C486.2 121.5 484.1 119.4 487.4 122.3C490.8 125.2 489.1 123.5 493.7 126.0C498.2 128.5 495.7 128.1 501.2 129.8C506.6 131.5 504.9 132.3 509.9 131.0C514.9 129.8 512.8 130.6 516.1 126.0C519.5 121.5 518.0 123.5 519.9 117.3C521.8 111.1 520.9 114.0 521.9 107.3C522.9 100.7 522.7 104.0 522.9 97.3C523.0 90.7 523.4 93.6 522.4 87.4C521.4 81.1 522.4 84.0 519.9 78.6C517.4 73.2 519.0 75.7 514.9 71.1C510.7 66.6 513.2 68.6 507.4 64.9C501.6 61.2 504.1 62.4 497.4 59.9C490.8 57.4 494.1 58.4 487.4 57.4C480.8 56.4 484.1 56.5 477.4 56.9C470.8 57.3 473.7 58.9 467.5 58.7C461.2 58.4 463.7 59.1 458.7 56.2C453.7 53.2 455.4 55.3 452.5 49.9C449.6 44.5 451.6 46.6 450.0 39.9C448.3 33.3 450.0 34.9 447.5 30.0C445.0 25.0 445.5 20.0 442.5 25.0C439.5 29.9 439.6 36.1 438.4 44.9C437.2 53.7 439.0 47.1 438.9 51.4C438.8 55.8 439.5 54.1 438.1 57.9C436.7 61.8 437.6 60.1 434.8 62.8C432.1 65.6 433.5 63.9 429.9 66.1C426.4 68.3 428.0 67.4 424.2 69.4C420.4 71.3 421.8 69.7 418.5 72.0C415.3 74.3 416.9 75.7 414.4 76.2C412.0 76.7 413.4 75.7 411.2 73.4C409.0 71.2 410.6 71.5 407.9 69.4C405.2 67.2 406.3 68.3 403.0 66.9C399.8 65.6 400.8 65.8 398.1 65.3C395.5 64.8 395.4 63.5 395.0 65.4Z"/>
<use href="#base"/>
</g>
<text class="l" x="133.8" y="70.8">Coral</text>
<text class="l" x="133.8" y="86.8">distribution</text>
<rect x="165.1" y="177.4" width="93.6" height="50.7" fill="#c9e0ef" stroke="#231f20" stroke-width="1.2"/>
<text class="k" x="169.6" y="190.4">Key: diversity</text>
<text class="r" x="171.6" y="207.6">Low</text>
<text class="r" x="251.8" y="207.6" text-anchor="end">High</text>
<rect x="171.9" y="212.2" width="26.8" height="13.2" fill="#f9b79e"/>
<rect x="198.6" y="212.2" width="26.8" height="13.2" fill="#f4816c"/>
<rect x="225.4" y="212.2" width="26.8" height="13.2" fill="#cf2142"/>
<g transform="translate(9,242.15)" clip-path="url(#cp1)">
<rect x="0" y="0" width="592.9" height="168.7" fill="#c9e0ef"/>
<path fill="#edc47e" d="M46.2 47.4C45.3 61.6 45.8 49.9 47.4 57.4C49.1 64.9 49.1 62.0 51.2 69.9C53.2 77.8 51.2 75.7 53.7 81.1C56.2 86.5 54.1 83.6 58.7 86.1C63.2 88.6 61.2 87.4 67.4 88.6C73.6 89.9 71.1 88.9 77.4 89.9C83.6 90.8 78.6 93.8 86.1 91.4C93.6 88.9 88.6 85.4 99.8 82.4C111.1 79.4 107.2 66.7 119.8 82.4C132.4 98.1 129.9 114.7 137.6 129.5C145.3 144.3 138.6 129.9 143.0 126.8C147.4 123.7 146.0 125.0 150.9 120.1C155.8 115.2 153.6 118.4 157.6 112.2C161.6 106.0 160.0 108.2 162.9 101.5C165.8 94.8 165.5 98.0 166.4 92.2C167.3 86.4 167.6 88.6 165.6 84.2C163.6 79.8 165.2 82.0 160.3 78.9C155.4 75.8 157.3 78.3 150.9 74.9C144.5 71.5 146.8 73.6 141.0 68.6C135.2 63.6 138.5 66.5 133.5 59.9C128.5 53.3 131.0 57.0 126.0 48.7C121.0 40.4 123.2 43.6 118.6 34.9C114.0 26.2 116.1 30.8 112.3 22.5C108.5 14.2 110.2 17.5 107.3 10.0C104.4 2.5 105.4 5.3 103.6 0.0C101.8 -5.3 113.2 -4.0 102.0 -6.0C90.8 -8.0 87.3 -13.0 70.0 -6.0C52.7 1.0 57.9 -2.8 50.0 15.0C42.1 32.8 47.0 33.3 46.2 47.4Z M216.9 70.4C214.1 72.8 217.8 71.7 220.1 73.7C222.5 75.7 221.2 75.0 224.1 76.3C226.9 77.6 225.4 77.1 228.6 77.6C231.9 78.2 230.4 77.6 233.8 78.0C237.3 78.4 236.2 77.7 239.1 78.9C241.9 80.1 240.6 79.1 242.3 81.5C244.1 83.9 243.0 83.1 244.3 86.1C245.6 89.1 244.7 87.6 246.2 90.7C247.8 93.7 246.9 92.2 248.9 95.2C250.8 98.3 250.2 97.1 252.1 99.8C254.1 102.5 253.2 103.0 254.7 103.3C256.2 103.6 255.7 104.3 256.6 100.7C257.4 97.2 258.4 99.7 257.3 92.6C256.3 85.6 257.3 88.3 253.4 79.6C249.5 70.9 253.9 70.9 245.6 66.5C237.3 62.2 238.2 65.2 228.6 66.5C219.1 67.8 219.7 68.0 216.9 70.4Z M289.5 25.0C305.5 2.3 299.8 20.3 318.9 22.0C338.1 23.6 324.3 27.3 346.9 30.0C369.5 32.6 356.9 33.3 386.8 30.0C416.8 26.6 412.6 25.3 436.8 20.0C460.9 14.6 442.6 15.6 459.2 14.0C475.9 12.3 470.9 12.1 486.7 15.0C502.5 17.8 493.3 15.8 506.6 22.5C519.9 29.1 515.0 25.8 526.6 34.9C538.3 44.1 532.4 39.1 541.6 49.9C550.7 60.7 547.7 55.7 554.1 67.4C560.4 79.0 558.4 73.2 560.5 84.9C562.7 96.5 562.7 91.5 560.5 102.3C558.4 113.1 560.4 108.2 554.1 117.3C547.7 126.5 550.7 121.5 541.6 129.8C532.4 138.1 536.6 134.8 526.6 142.3C516.6 149.8 521.6 147.3 511.6 152.2C501.6 157.2 498.3 159.7 496.7 157.2C495.0 154.8 506.7 147.3 506.8 144.8C506.9 142.4 503.5 146.9 496.8 149.8C490.2 152.7 493.1 151.5 486.8 153.6C480.6 155.6 483.9 155.2 478.1 156.1C472.3 156.9 474.8 156.9 469.4 156.1C464.0 155.2 466.9 155.6 461.9 153.6C456.9 151.5 459.4 152.7 454.4 149.8C449.4 146.9 451.5 146.9 446.9 144.8C442.3 142.7 444.8 142.7 440.7 143.6C436.5 144.4 440.7 145.2 434.4 147.3C428.2 149.4 430.3 149.4 421.9 149.8C413.6 150.2 417.8 150.2 409.5 148.6C401.1 146.9 404.5 147.3 397.0 144.8C389.5 142.3 403.0 144.6 387.0 141.1C371.0 137.6 364.4 136.4 349.0 134.3C333.6 132.3 347.7 133.8 340.8 134.8C333.9 135.8 334.9 134.8 328.3 137.3C321.6 139.8 325.8 139.4 320.8 142.3C315.8 145.2 320.0 144.4 313.3 146.1C306.7 147.7 310.0 147.3 300.8 147.3C291.7 147.3 294.2 147.3 285.9 146.1C277.5 144.8 280.9 147.3 275.9 143.6C270.9 139.8 272.5 152.7 270.9 134.8C269.2 117.0 264.7 126.5 270.9 89.9C277.1 53.3 273.5 47.6 289.5 25.0Z"/>
<path fill="#cc9640" d="M221.4 71.7C220.4 74.3 222.5 73.0 225.4 74.1C228.2 75.2 226.7 74.6 229.9 75.0C233.2 75.4 231.7 75.0 235.2 75.4C238.6 75.8 237.5 75.1 240.4 76.3C243.2 77.5 241.9 76.7 243.6 78.9C245.4 81.1 244.3 80.0 245.6 82.8C246.9 85.7 246.0 84.4 247.5 87.4C249.1 90.5 248.2 88.9 250.2 92.0C252.1 95.0 251.5 93.9 253.4 96.5C255.3 99.2 254.6 101.2 255.9 99.9C257.2 98.6 258.2 99.4 257.3 92.6C256.5 85.8 257.3 88.3 253.4 79.6C249.5 70.9 253.9 70.9 245.6 66.5C237.3 62.2 236.7 64.8 228.6 66.5C220.6 68.3 222.5 69.2 221.4 71.7Z M289.6 131.1C290.3 143.1 287.5 133.8 292.1 136.1C296.7 138.3 296.3 137.8 303.3 137.8C310.4 137.8 308.2 138.3 313.3 136.1C318.5 133.8 315.9 135.3 318.8 131.1C321.7 126.9 320.1 129.0 322.0 123.6C324.0 118.2 323.3 120.7 324.5 114.9C325.8 109.1 324.1 111.6 325.8 106.1C327.5 100.7 326.2 102.8 329.5 98.7C332.9 94.5 330.0 98.3 335.8 93.7C341.6 89.1 339.9 89.8 346.9 84.9C353.9 79.9 349.4 80.9 356.9 78.9C364.4 76.9 361.0 76.9 369.4 78.9C377.7 80.9 373.5 79.5 381.8 84.9C390.2 90.2 386.0 87.9 394.3 94.8C402.6 101.8 399.0 98.8 406.8 105.8C414.6 112.8 407.8 111.1 417.8 115.8C427.8 120.5 413.7 115.5 436.8 119.8C459.8 124.1 466.8 125.9 486.8 128.6C506.9 131.3 490.2 128.4 496.8 127.9C503.5 127.3 500.1 127.9 506.8 126.9C513.5 125.9 511.0 126.8 516.8 124.9C522.6 122.9 520.3 124.0 524.3 121.1C528.3 118.2 527.5 119.9 528.8 116.1C530.0 112.4 530.4 114.5 528.0 109.9C525.7 105.3 527.2 107.8 521.8 102.4C516.4 97.0 518.5 99.1 511.8 93.7C505.1 88.3 508.5 90.8 501.8 86.2C495.2 81.6 498.5 83.7 491.8 79.9C485.2 76.2 487.7 78.3 481.8 74.9C476.0 71.6 477.7 74.1 474.4 70.0C471.0 65.8 473.5 69.1 471.9 62.5C470.2 55.8 471.0 57.5 469.4 50.0C467.7 42.5 466.9 46.7 466.9 40.0C466.8 33.3 469.6 35.8 469.2 30.0C468.8 24.1 476.5 24.1 465.7 22.5C454.9 20.8 463.0 20.8 436.8 25.0C410.5 29.1 411.4 30.3 386.8 34.9C362.3 39.6 373.0 36.6 363.0 39.0C353.0 41.4 360.5 39.7 356.7 42.0C352.9 44.3 355.4 43.1 351.5 45.9C347.6 48.7 349.7 47.2 344.9 50.5C340.1 53.8 342.3 52.5 337.1 55.7C331.9 58.9 334.1 57.6 329.3 60.2C324.5 62.8 327.6 61.6 322.8 63.5C318.0 65.4 322.6 62.2 315.0 66.0C307.4 69.8 308.3 63.7 300.0 75.0C291.7 86.3 293.5 81.3 290.0 100.0C286.5 118.7 288.9 119.1 289.6 131.1Z"/>
<path fill="#6b4a21" d="M394.5 68.7C394.9 66.5 394.1 66.7 398.2 67.0C402.4 67.2 400.7 67.8 407.0 69.5C413.2 71.1 409.5 71.1 417.0 71.9C424.4 72.8 421.1 71.6 429.4 71.9C437.8 72.3 433.6 71.9 441.9 72.9C450.2 73.9 446.1 73.3 454.4 74.9C462.7 76.6 460.6 75.3 466.9 77.9C473.1 80.6 469.5 80.8 473.2 82.8C476.9 84.8 475.2 83.0 478.1 83.8C481.0 84.6 480.0 83.6 482.0 85.2C484.0 86.8 483.0 86.2 484.0 88.7C485.0 91.2 484.4 89.7 484.9 92.6C485.4 95.5 485.7 94.6 485.4 97.5C485.1 100.4 485.1 99.1 484.0 101.4C482.9 103.7 483.6 102.2 482.0 104.3C480.4 106.4 480.7 106.0 479.1 107.7C477.5 109.4 478.6 109.5 477.1 109.4C475.6 109.3 476.3 108.9 474.7 107.3C473.1 105.7 473.8 106.5 472.4 104.5C471.0 102.5 471.7 103.1 470.5 101.2C469.3 99.3 470.5 100.3 468.8 98.9C467.1 97.5 467.2 98.8 465.4 97.0C463.6 95.2 465.4 95.6 463.4 93.6C461.4 91.6 462.1 91.9 459.5 91.1C456.9 90.3 458.2 90.3 455.6 91.1C453.0 91.9 455.0 92.0 451.7 93.5C448.4 95.0 449.7 94.4 445.8 95.5C441.9 96.6 444.5 96.6 439.9 96.8C435.3 97.0 437.5 97.0 431.9 96.2C426.4 95.4 428.6 96.1 423.2 94.4C417.8 92.7 420.3 93.9 415.7 91.2C411.1 88.4 413.6 89.9 409.5 86.2C405.3 82.4 407.4 84.1 403.2 79.9C399.1 75.8 399.9 77.4 397.0 73.7C394.1 70.0 394.1 70.9 394.5 68.7Z"/>
<use href="#base"/>
</g>
<text class="l" x="133.8" y="255.2">Mangrove</text>
<text class="l" x="133.8" y="270.8">distribution</text>
<rect x="165.1" y="358.4" width="93.6" height="50.7" fill="#c9e0ef" stroke="#231f20" stroke-width="1.2"/>
<text class="k" x="169.6" y="371.4">Key: diversity</text>
<text class="r" x="171.6" y="388.6">Low</text>
<text class="r" x="251.8" y="388.6" text-anchor="end">High</text>
<rect x="171.9" y="393.2" width="26.8" height="13.2" fill="#edc47e"/>
<rect x="198.6" y="393.2" width="26.8" height="13.2" fill="#cc9640"/>
<rect x="225.4" y="393.2" width="26.8" height="13.2" fill="#6b4a21"/>
<g transform="translate(9,424.15)" clip-path="url(#cp2)">
<rect x="0" y="0" width="592.9" height="169.6" fill="#c9e0ef"/>
<path fill="#a9d164" d="M53.0 36.7C53.3 33.4 53.0 34.3 54.6 31.0C56.3 27.7 54.4 29.1 57.9 26.9C61.4 24.7 59.0 25.4 65.3 24.5C71.5 23.5 71.0 22.2 76.7 24.1C82.4 26.0 79.1 21.9 82.4 30.2C85.6 38.4 84.0 38.9 86.5 48.9C88.9 59.0 91.4 55.2 89.7 60.4C88.1 65.5 85.9 66.1 81.6 64.4C77.2 62.8 79.9 60.6 76.7 55.5C73.4 50.3 75.6 51.7 71.8 48.9C68.0 46.2 70.1 48.4 65.3 47.3C60.4 46.2 60.9 47.9 57.1 45.7C53.3 43.5 55.2 43.8 53.8 40.8C52.5 37.8 52.7 40.0 53.0 36.7Z M225.4 12.7C225.4 12.2 225.8 12.9 228.6 11.1C231.5 9.3 231.2 9.6 233.8 7.2C236.5 4.8 234.3 5.7 236.5 3.9C238.6 2.2 236.5 3.0 240.4 2.0C244.3 0.9 244.9 0.7 248.2 0.7C251.5 0.7 248.4 1.1 250.2 2.0C251.9 2.8 250.6 2.2 253.4 3.3C256.3 4.4 255.6 3.5 258.6 5.2C261.7 7.0 260.2 5.9 262.6 8.5C265.0 11.1 263.9 9.8 265.8 13.1C267.8 16.3 267.9 15.4 268.4 18.3C269.0 21.1 269.0 21.1 267.5 21.5C266.0 22.0 267.0 20.9 263.9 19.6C260.7 18.3 261.3 18.5 258.0 17.6C254.7 16.7 256.0 18.1 254.1 17.0C252.1 15.9 253.0 16.5 252.1 14.4C251.2 12.2 254.1 11.7 251.5 10.4C248.9 9.2 250.2 10.7 244.3 10.7C238.4 10.7 239.1 9.9 233.8 10.4C228.6 11.0 231.5 11.7 228.6 12.4C225.8 13.1 225.4 13.1 225.4 12.7Z M324.8 50.6C328.9 45.9 329.4 46.4 332.3 44.6C335.3 42.8 334.7 41.7 333.6 45.1C332.6 48.5 331.8 49.0 329.2 54.8C326.6 60.6 328.3 57.0 325.9 62.6C323.5 68.3 324.4 66.1 322.0 71.8C319.6 77.4 320.7 75.2 318.8 79.6C316.8 83.9 317.2 82.0 316.2 84.8C315.1 87.6 315.1 86.3 315.5 88.1C315.9 89.8 315.1 89.2 317.5 90.0C319.8 90.9 318.8 90.7 322.7 90.7C326.6 90.7 325.7 90.0 329.2 90.0C332.7 90.0 331.6 89.7 333.1 90.7C334.7 91.6 334.3 90.9 333.9 92.9C333.5 94.9 333.8 94.3 331.8 96.6C329.8 98.9 330.5 97.9 327.9 99.8C325.3 101.8 326.4 100.8 324.0 102.4C321.6 104.0 322.4 103.1 320.7 104.6C319.1 106.2 321.9 105.5 319.0 107.0C316.2 108.5 317.2 109.3 312.1 109.1C307.1 108.8 309.1 108.2 303.9 106.2C298.7 104.2 298.6 108.9 296.6 103.1C294.6 97.3 293.5 98.7 297.9 88.7C302.2 78.7 302.2 83.1 309.6 73.1C317.0 63.1 315.0 66.2 320.1 58.7C325.1 51.2 320.7 55.3 324.8 50.6Z M306.6 78.7C312.9 73.9 315.7 77.0 319.0 78.7C322.2 80.4 317.5 80.9 316.4 83.9C315.2 87.0 314.8 85.7 315.5 87.8C316.1 90.0 315.2 89.6 318.3 90.4C321.5 91.3 320.7 90.7 324.8 90.4C329.0 90.2 327.9 89.6 330.7 89.8C333.5 90.0 332.4 89.6 333.3 91.1C334.2 92.6 334.3 92.0 333.5 94.4C332.6 96.7 332.9 95.9 330.7 98.3C328.5 100.7 329.4 99.8 326.8 101.5C324.2 103.3 325.1 102.4 322.9 103.5C320.7 104.6 322.2 103.3 320.3 104.8C318.3 106.3 319.6 106.7 317.0 108.1C314.4 109.5 314.8 108.1 312.4 109.0C310.1 109.9 311.8 111.1 309.8 110.8C307.9 110.5 308.4 110.0 306.6 108.2C304.7 106.4 306.4 110.5 304.2 105.4C302.1 100.4 299.3 102.0 300.1 93.1C300.8 84.1 300.3 83.5 306.6 78.7Z M319.6 110.3C321.0 109.8 320.9 109.9 323.5 111.3C326.2 112.8 324.8 112.4 327.5 114.6C330.1 116.8 329.3 115.9 331.4 117.8C333.5 119.8 333.2 118.8 333.7 120.5C334.2 122.1 334.2 122.5 332.8 122.8C331.4 123.2 331.9 122.9 329.4 121.5C327.0 120.1 328.1 120.6 325.5 118.5C322.9 116.4 323.6 117.2 321.6 115.2C319.5 113.3 320.0 114.3 319.4 112.6C318.7 111.0 318.2 110.7 319.6 110.3Z M361.3 65.7C361.6 68.7 361.6 67.5 361.6 70.2C361.6 72.9 361.7 71.9 361.3 73.8C361.0 75.7 361.2 75.2 360.6 75.9C360.0 76.6 360.3 76.6 359.5 76.0C358.7 75.5 359.0 76.0 358.2 74.2C357.4 72.4 357.7 73.3 357.1 70.7C356.5 68.1 356.7 69.3 356.3 66.3C356.0 63.3 356.0 64.5 356.0 61.8C356.0 59.1 355.9 60.1 356.3 58.2C356.6 56.3 356.4 56.8 357.0 56.1C357.6 55.4 357.3 55.4 358.1 56.0C358.9 56.5 358.6 56.0 359.4 57.8C360.2 59.6 359.9 58.7 360.5 61.3C361.1 63.9 360.9 62.7 361.3 65.7Z M365.8 96.3C365.8 97.5 365.9 97.1 365.4 98.1C364.9 99.1 365.2 98.8 364.3 99.4C363.5 100.0 363.9 99.9 362.9 99.9C361.9 99.9 362.3 100.0 361.4 99.4C360.6 98.8 360.9 99.1 360.4 98.1C359.9 97.1 360.0 97.5 360.0 96.3C360.0 95.1 359.9 95.5 360.4 94.5C360.9 93.5 360.6 93.8 361.4 93.2C362.3 92.6 361.9 92.7 362.9 92.7C363.9 92.7 363.5 92.6 364.3 93.2C365.2 93.8 364.9 93.5 365.4 94.5C365.9 95.5 365.8 95.1 365.8 96.3Z M418.8 42.4C419.7 41.3 420.5 40.5 422.9 40.8C425.4 41.1 424.7 40.5 426.2 43.2C427.6 45.9 427.3 44.6 427.3 48.9C427.3 53.3 427.6 51.7 426.2 56.3C424.7 60.9 425.6 58.7 422.9 62.8C420.2 66.9 421.0 65.8 418.0 68.5C415.0 71.2 416.4 70.9 413.9 71.0C411.5 71.1 412.0 70.7 410.7 68.8C409.3 66.9 408.8 67.3 409.9 65.3C411.0 63.2 411.0 65.3 413.9 62.8C416.9 60.4 416.1 61.4 418.8 57.9C421.6 54.4 420.7 56.0 422.1 52.2C423.5 48.4 423.5 49.2 422.9 46.5C422.4 43.8 421.8 45.4 420.5 44.0C419.1 42.7 418.0 43.5 418.8 42.4Z M442.5 24.5C443.0 20.2 442.5 21.8 443.3 17.9C444.1 14.1 442.8 15.8 444.9 13.1C447.1 10.3 445.5 12.5 449.8 9.8C454.2 7.1 453.6 7.9 458.0 4.9C462.3 1.9 459.6 3.0 462.9 0.8C466.1 -1.4 462.6 -0.8 467.8 -1.6C472.9 -2.4 474.6 -3.8 478.4 -1.6C482.2 0.5 479.7 0.5 479.2 4.9C478.7 9.2 478.9 8.2 476.8 11.4C474.6 14.7 476.2 12.8 472.7 14.7C469.1 16.6 470.0 15.9 466.1 17.1C462.3 18.3 463.7 18.3 461.3 18.3C458.8 18.2 461.0 17.7 458.8 17.0C456.6 16.2 457.2 16.0 454.7 16.0C452.3 16.0 454.2 14.1 451.5 17.0C448.7 19.8 449.3 19.8 446.6 24.5C443.9 29.1 444.9 28.9 443.3 31.0C441.7 33.1 441.9 32.8 441.7 30.7C441.4 28.5 441.9 28.7 442.5 24.5Z M443.3 31.0C443.1 30.2 442.9 32.9 441.4 36.7C439.8 40.5 440.0 38.3 438.7 42.4C437.5 46.5 438.5 44.6 437.6 48.9C436.7 53.3 437.1 51.4 436.0 55.5C434.9 59.5 435.6 57.4 434.3 61.2C433.1 65.0 431.1 65.3 432.2 66.9C433.3 68.5 434.9 69.6 437.6 66.1C440.3 62.5 438.7 62.0 440.4 56.3C442.0 50.6 441.9 54.6 442.5 48.9C443.0 43.2 441.7 45.1 442.0 39.2C442.3 33.2 443.5 31.8 443.3 31.0Z M416.4 119.5C417.3 117.4 417.0 117.0 418.3 117.1C419.5 117.3 419.3 116.0 420.1 120.0C420.9 124.0 420.0 122.1 420.6 129.2C421.2 136.2 422.6 137.7 421.9 141.2C421.2 144.6 420.2 142.1 418.5 139.6C416.9 137.1 417.8 137.6 417.0 133.7C416.1 129.8 416.4 131.3 416.0 127.8C415.7 124.4 415.7 126.1 415.8 123.3C415.9 120.5 415.6 121.5 416.4 119.5Z M467.9 153.4C470.1 152.2 473.1 152.3 476.2 153.4C479.3 154.6 478.4 155.1 477.3 156.8C476.1 158.6 475.4 158.6 472.8 158.6C470.2 158.7 471.1 158.8 469.4 157.1C467.8 155.3 465.6 154.6 467.9 153.4Z"/>
<path fill="#6aad45" d="M80.4 29.5C83.9 29.3 82.1 30.2 88.6 33.7C95.1 37.2 92.8 36.2 99.8 39.9C106.9 43.7 104.4 41.6 109.8 44.9C115.2 48.3 113.6 46.4 116.1 49.9C118.6 53.4 118.1 52.4 117.3 55.4C116.5 58.4 119.4 57.7 113.6 58.9C107.7 60.1 107.6 58.2 99.8 58.9C92.1 59.6 94.8 61.8 90.4 60.9C85.9 60.0 88.8 59.1 86.4 56.2C83.9 53.2 85.3 55.2 83.1 52.2C81.0 49.2 81.8 50.4 79.9 47.2C78.0 43.9 78.5 45.7 77.4 42.4C76.3 39.2 76.4 40.2 76.6 37.4C76.9 34.7 76.9 36.9 78.1 34.2C79.4 31.5 76.9 29.6 80.4 29.5Z M290.8 24.7C292.4 23.4 292.7 21.4 296.2 24.7C299.6 27.9 297.8 27.9 301.1 34.5C304.3 41.0 303.0 37.4 306.0 44.3C308.9 51.1 308.9 50.3 309.9 55.0C310.9 59.8 310.4 58.0 308.9 58.4C307.4 58.9 307.8 59.3 305.5 56.5C303.2 53.7 304.5 54.9 302.0 50.1C299.6 45.4 300.7 47.5 298.1 42.3C295.5 37.1 296.5 39.0 294.2 34.5C291.9 29.9 292.4 31.9 291.3 28.6C290.1 25.3 289.2 26.0 290.8 24.7Z M306.6 56.8C306.3 55.5 307.2 56.1 309.4 55.0C311.6 54.0 310.4 54.8 313.3 53.7C316.2 52.5 314.9 53.2 318.2 51.7C321.5 50.2 320.0 50.7 323.1 49.2C326.2 47.8 327.1 44.7 327.4 47.3C327.7 49.9 325.7 53.9 324.1 57.0C322.5 60.0 324.2 56.3 322.6 56.4C321.0 56.5 321.8 56.7 319.2 57.4C316.6 58.0 317.7 57.9 314.8 58.4C311.8 58.8 313.1 59.4 310.4 58.8C307.7 58.3 307.0 58.1 306.6 56.8Z M303.7 103.5C304.5 103.5 304.3 104.4 306.6 105.8C308.8 107.3 308.0 107.4 310.5 107.8C313.0 108.2 313.4 106.7 314.0 107.1C314.7 107.6 313.8 107.9 312.4 109.2C311.1 110.5 312.1 111.3 310.1 111.1C308.1 110.8 308.5 110.2 306.6 108.5C304.6 106.7 305.2 107.5 304.2 105.8C303.3 104.2 302.9 103.5 303.7 103.5Z M457.2 17.1C459.9 16.0 457.2 15.8 459.6 13.9C462.1 12.0 460.7 13.1 464.5 11.4C468.3 9.8 467.1 10.1 471.0 9.0C475.0 7.9 474.4 7.3 476.3 8.2C478.2 9.0 477.9 9.2 476.8 11.4C475.6 13.6 476.2 12.8 472.7 14.7C469.1 16.6 470.0 15.9 466.1 17.1C462.3 18.3 463.7 18.3 461.3 18.3C458.8 18.2 461.0 15.4 458.8 17.0C456.6 18.5 457.7 18.7 454.7 22.8C451.7 27.0 452.4 25.3 449.8 29.4C447.2 33.4 448.3 31.3 446.9 35.1C445.5 38.9 446.1 37.2 445.8 40.8C445.4 44.3 446.3 42.7 445.8 45.7C445.2 48.7 445.5 48.7 444.1 49.8C442.8 50.8 442.8 51.4 441.7 48.9C440.6 46.5 441.0 46.5 440.9 42.4C440.8 38.3 440.5 40.5 441.4 36.7C442.2 32.9 441.6 35.1 443.3 31.0C445.0 26.9 443.9 29.1 446.6 24.5C449.3 19.8 447.9 19.6 451.5 17.1C455.0 14.7 454.5 18.2 457.2 17.1Z M450.0 67.9C454.1 59.6 455.4 67.1 462.5 62.4C469.5 57.7 466.2 58.2 471.2 53.7C476.2 49.1 474.1 49.9 477.4 48.7C480.8 47.4 480.4 47.4 481.2 49.9C482.0 52.4 481.6 52.4 479.9 56.2C478.3 59.9 475.4 59.1 476.2 61.2C477.0 63.2 477.0 62.4 482.4 62.4C487.8 62.4 485.8 61.2 492.4 61.2C499.1 61.2 496.6 61.3 502.4 62.4C508.2 63.5 506.9 62.6 509.9 64.4C512.9 66.2 513.9 65.5 511.4 67.9C508.9 70.3 506.6 69.3 502.4 71.6C498.2 74.0 501.2 71.7 498.7 74.9C496.2 78.0 497.2 77.2 494.9 81.1C492.6 85.0 490.0 82.4 491.7 86.6C493.3 90.8 494.2 88.4 499.9 93.6C505.6 98.8 503.6 97.3 508.6 102.3C513.6 107.3 509.5 104.8 514.9 108.6C520.3 112.3 519.7 111.1 524.9 113.6C530.0 116.1 530.4 114.0 530.4 116.1C530.4 118.1 529.2 117.3 524.9 119.8C520.5 122.3 522.4 121.1 517.4 123.5C512.4 126.0 514.9 125.2 509.9 127.3C504.9 129.4 507.8 128.4 502.4 129.8C497.0 131.2 499.1 131.4 493.7 131.5C488.3 131.7 491.6 135.0 486.2 130.3C480.8 125.5 484.5 127.5 477.4 117.3C470.4 107.2 474.1 109.8 465.0 99.8C455.8 89.9 455.0 98.0 450.0 87.4C445.0 76.7 445.8 76.2 450.0 67.9Z M417.0 127.8C417.6 125.9 418.2 123.6 419.6 127.8C421.0 132.1 421.3 136.8 421.1 140.6C421.0 144.5 420.2 141.6 419.1 139.3C417.9 137.0 418.4 137.5 417.7 133.7C417.0 129.9 416.4 129.8 417.0 127.8Z"/>
<path fill="#a9d164" d="M467.5 74.9C468.7 71.6 467.5 72.8 472.4 69.9C477.4 67.0 475.4 67.6 482.4 66.1C489.5 64.6 486.2 65.6 493.7 65.4C501.2 65.1 499.2 64.8 504.9 65.4C510.6 66.0 511.5 65.2 510.6 67.1C509.8 69.1 506.4 68.6 502.4 71.1C498.4 73.7 501.2 71.6 498.7 74.9C496.2 78.2 497.8 77.4 494.9 81.1C492.0 84.9 494.1 84.4 489.9 86.1C485.8 87.8 487.4 86.9 482.4 86.1C477.4 85.3 479.5 85.7 474.9 83.6C470.4 81.5 471.2 82.8 468.7 79.9C466.2 77.0 466.2 78.2 467.5 74.9Z M481.2 120.3C483.3 118.2 483.7 119.6 489.9 118.6C496.2 117.6 494.9 119.0 499.9 117.3C504.9 115.6 501.6 115.6 504.9 113.6C508.2 111.5 505.7 111.9 509.9 111.1C514.0 110.2 512.4 110.2 517.4 111.1C522.4 111.9 520.7 111.9 524.9 113.6C529.0 115.2 529.9 114.0 529.9 116.1C529.9 118.1 529.9 116.9 524.9 119.8C519.9 122.7 522.4 121.5 514.9 124.8C507.4 128.1 509.5 127.5 502.4 129.8C495.3 132.0 498.8 131.4 493.7 131.5C488.5 131.7 490.3 132.5 486.9 130.3C483.6 128.0 485.6 128.1 483.7 124.8C481.8 121.5 479.1 122.4 481.2 120.3Z"/>
<path fill="#237d3d" d="M442.5 48.9C444.0 46.9 442.5 46.5 444.9 48.1C447.3 49.7 447.3 49.7 449.8 53.8C452.3 57.9 450.9 56.0 452.3 60.4C453.7 64.8 452.0 64.2 453.9 66.9C455.8 69.6 454.5 69.0 458.0 68.5C461.5 68.0 460.4 67.2 464.5 65.3C468.6 63.4 466.9 63.1 470.2 62.8C473.5 62.5 472.7 62.8 474.3 64.4C475.9 66.0 476.2 65.5 475.1 67.7C474.0 69.9 474.0 69.4 471.0 71.0C468.0 72.6 468.5 70.7 466.1 72.6C463.7 74.5 464.2 73.7 463.7 76.7C463.2 79.7 463.6 78.9 464.5 81.6C465.4 84.3 463.3 82.7 466.5 84.8C469.7 86.9 469.5 85.3 474.0 88.0C478.5 90.7 475.9 89.1 480.0 93.0C484.1 96.9 483.3 96.5 486.2 99.8C489.1 103.1 489.3 101.3 488.8 103.0C488.3 104.7 487.1 102.4 484.7 105.0C482.3 107.6 482.9 107.7 481.5 110.8C480.1 113.9 482.0 114.5 480.6 114.4C479.2 114.3 479.3 113.4 477.4 110.4C475.5 107.4 476.5 108.8 474.9 105.5C473.3 102.2 473.7 101.2 472.5 100.6C471.3 100.0 472.3 100.4 471.2 103.8C470.1 107.2 471.0 107.4 469.2 110.7C467.4 114.0 468.3 113.2 465.9 113.6C463.5 114.0 463.8 114.7 461.9 112.0C460.0 109.3 461.6 109.0 460.2 105.5C458.8 102.0 459.7 103.6 457.8 101.4C455.9 99.2 457.5 100.0 454.5 98.9C451.5 97.8 453.1 98.5 448.8 98.1C444.5 97.7 446.7 98.1 441.5 97.6C436.3 97.1 438.7 97.4 433.3 96.5C427.9 95.6 430.1 96.2 425.2 94.9C420.3 93.6 421.1 95.2 418.6 92.7C416.1 90.2 418.6 91.4 417.8 87.5C417.0 83.6 417.6 84.0 416.2 81.0C414.8 78.0 412.9 79.0 413.7 78.5C414.5 78.0 415.1 78.8 418.6 79.4C422.1 80.0 419.6 83.3 424.3 80.2C429.0 77.1 428.1 74.1 432.7 70.0C437.3 65.9 435.8 71.3 438.2 67.9C440.6 64.5 439.0 64.4 439.8 59.8C440.6 55.2 439.6 57.6 440.5 54.0C441.4 50.4 441.0 50.9 442.5 48.9Z"/>
<use href="#base"/>
</g>
<text class="l" x="133.8" y="435.8">Seagrass</text>
<text class="l" x="133.8" y="451.0">distribution</text>
<rect x="165.1" y="542.4" width="93.6" height="50.7" fill="#c9e0ef" stroke="#231f20" stroke-width="1.2"/>
<text class="k" x="169.6" y="555.4">Key: diversity</text>
<text class="r" x="171.6" y="572.6">Low</text>
<text class="r" x="251.8" y="572.6" text-anchor="end">High</text>
<rect x="171.9" y="577.2" width="26.8" height="13.2" fill="#a9d164"/>
<rect x="198.6" y="577.2" width="26.8" height="13.2" fill="#6aad45"/>
<rect x="225.4" y="577.2" width="26.8" height="13.2" fill="#237d3d"/>
<text class="s" x="305.3" y="621.0">[Source: adapted from GRID-Arendal and UNEP-WCMC</text>
<text class="s" x="305.3" y="634.1">Coral distribution: UNEP-WCMC 2001 World Atlas of Coral Reefs</text>
<text class="s" x="305.3" y="647.2">Mangrove distribution: UNEP-WCMC 1997 World Mangrove Atlas</text>
<text class="s" x="305.3" y="660.3">Seagrass distribution: UNEP-WCMC 2003 World Atlas of Seagrasses]</text>
</svg></body></html>
